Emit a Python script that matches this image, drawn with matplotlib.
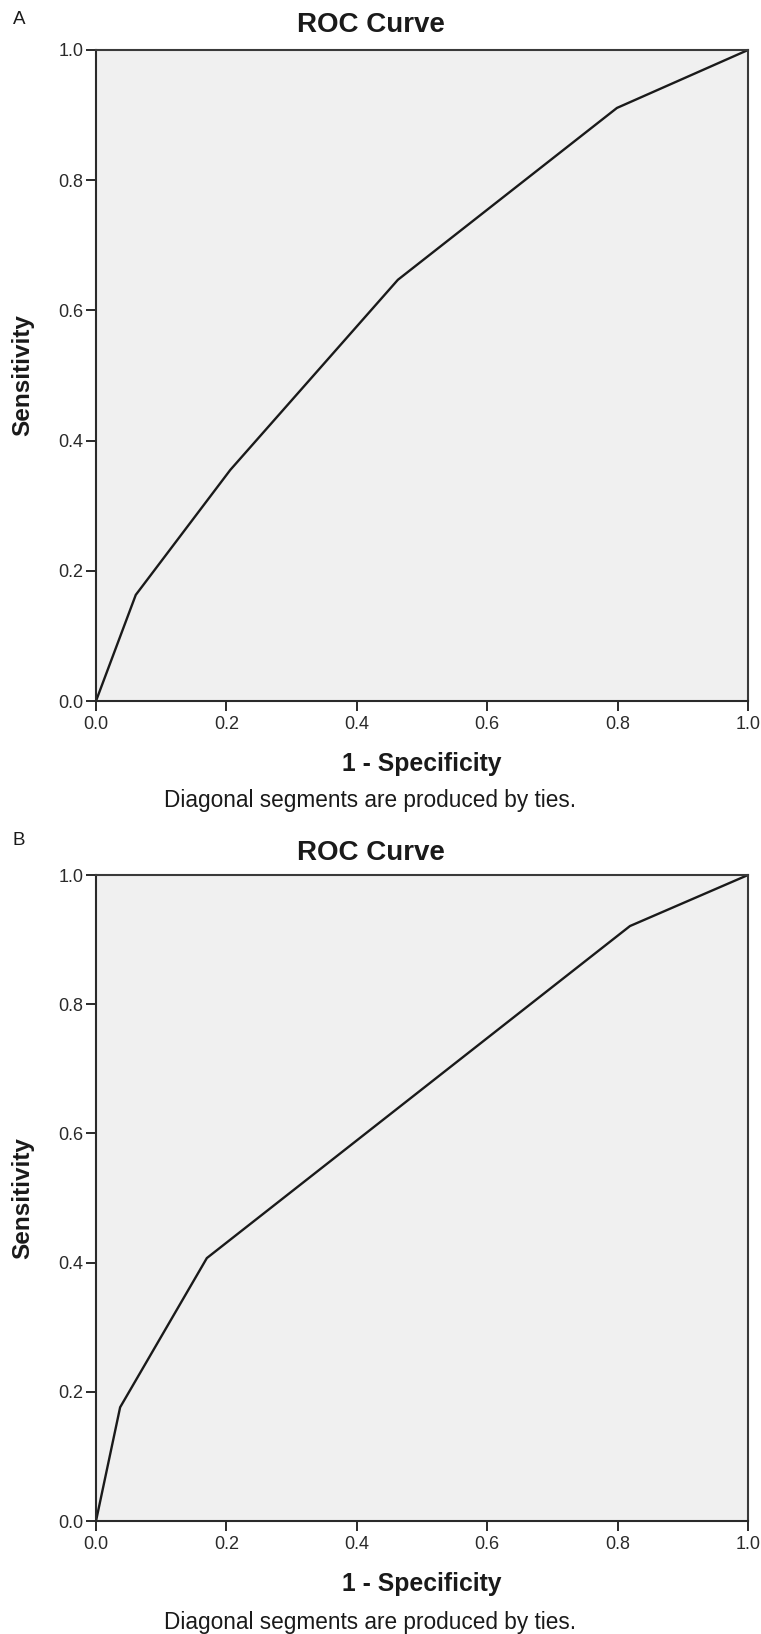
import matplotlib.pyplot as plt
import numpy as np

plt.rcParams['font.family'] = ['Liberation Sans', 'DejaVu Sans']

# ROC points (1 - specificity, sensitivity)
fpr_a = [0.0, 0.061, 0.206, 0.463, 0.799, 1.0]
tpr_a = [0.0, 0.163, 0.355, 0.647, 0.911, 1.0]

fpr_b = [0.0, 0.037, 0.170, 0.819, 1.0]
tpr_b = [0.0, 0.176, 0.407, 0.921, 1.0]

panels = ['A', 'B']
ticks = [0.0, 0.2, 0.4, 0.6, 0.8, 1.0]
tick_labels = ['0.0', '0.2', '0.4', '0.6', '0.8', '1.0']

W, H = 761, 1634
fig = plt.figure(figsize=(W / 100, H / 100), dpi=100)

# axes boxes in pixels: left, top, right, bottom
boxes = [(96, 50, 748, 701), (96, 875, 748, 1521)]
label_y = [19, 841]
title_y = [25, 853]
foot_y = [800, 1623]
curves = [(fpr_a, tpr_a), (fpr_b, tpr_b)]

for i, (l, t, r, b) in enumerate(boxes):
    ax = fig.add_axes([l / W, 1 - b / H, (r - l) / W, (b - t) / H])
    ax.set_facecolor('#f0f0f0')
    x, y = curves[i]
    ax.plot(x, y, color='#1a1a1a', lw=1.7, solid_joinstyle='miter')
    ax.set_xlim(0, 1)
    ax.set_ylim(0, 1)
    ax.set_xticks(ticks)
    ax.set_xticklabels(tick_labels)
    ax.set_yticks(ticks)
    ax.set_yticklabels(tick_labels)
    for s in ['left', 'bottom']:
        ax.spines[s].set_color('#2a2a2a')
        ax.spines[s].set_linewidth(1.5)
    for s in ['top', 'right']:
        ax.spines[s].set_color('#3a3a3a')
        ax.spines[s].set_linewidth(1.5)
    ax.tick_params(axis='both', direction='out', length=7, width=1.4,
                   color='#2a2a2a', labelsize=13, labelcolor='#2a2a2a')
    ax.tick_params(axis='x', pad=4)
    ax.tick_params(axis='y', pad=2)
    ax.set_xlabel('1 - Specificity', fontsize=17.8, fontweight='bold',
                  color='#1a1a1a', labelpad=13.5)
    ax.set_ylabel('Sensitivity', fontsize=17.5, fontweight='bold',
                  color='#1a1a1a', labelpad=17)
    fig.text(371 / W, 1 - title_y[i] / H, 'ROC Curve', fontsize=20,
             fontweight='bold', color='#1a1a1a', va='center', ha='center')
    fig.text(13 / W, 1 - label_y[i] / H, panels[i], fontsize=13.5,
             color='#1a1a1a', va='center', ha='left')
    fig.text(370 / W, 1 - foot_y[i] / H,
             'Diagonal segments are produced by ties.', fontsize=16.3,
             color='#1a1a1a', va='center', ha='center')

fig.savefig('out.png', dpi=100)
